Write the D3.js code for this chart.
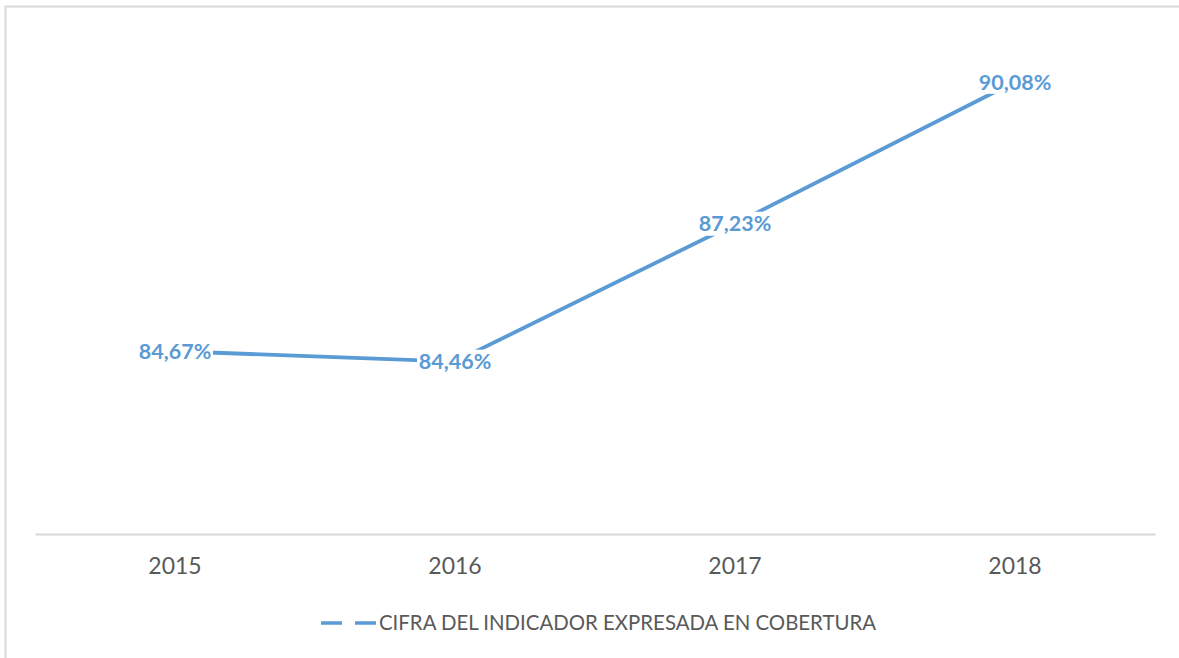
<!DOCTYPE html>
<html>
<head>
<meta charset="utf-8">
<script src="https://cdn.jsdelivr.net/npm/d3@7"></script>
<style>
  body { margin: 0; background: #fff; }
  svg text { font-family: Lato, "Open Sans", sans-serif; }
</style>
</head>
<body>
<div id="chart"></div>
<script>
// chart data
var years = ["2015", "2016", "2017", "2018"];
var values = [84.67, 84.46, 87.23, 90.08];
var seriesName = "CIFRA DEL INDICADOR EXPRESADA EN COBERTURA";
var yDomain = [81, 91];

var width = 1179, height = 658;
var color = "#5B9BD5";

var svg = d3.select("#chart").append("svg")
    .attr("width", width)
    .attr("height", height);

// chart frame (right/bottom cut off)
svg.append("path")
    .attr("d", "M5.5," + height + "V6.5H" + width)
    .attr("fill", "none")
    .attr("stroke", "#D9D9D9")
    .attr("stroke-width", 2);

var x = d3.scaleBand().domain(years).range([35, 1155]);
var y = d3.scaleLinear().domain(yDomain).range([534, 36]);

var data = years.map(function (d, i) { return { year: d, value: values[i] }; });

// x axis
var xAxis = svg.append("g")
    .attr("transform", "translate(0,534)")
    .call(d3.axisBottom(x).tickSize(0).tickPadding(24));
xAxis.select(".domain").attr("stroke", "#D9D9D9").attr("stroke-width", 2);
xAxis.selectAll("text")
    .attr("fill", "#595959")
    .style("font-size", "23px");

var line = d3.line()
    .x(function (d) { return x(d.year) + x.bandwidth() / 2; })
    .y(function (d) { return y(d.value); });

svg.append("path")
    .datum(data)
    .attr("d", line)
    .attr("fill", "none")
    .attr("stroke", color)
    .attr("stroke-width", 3.8)
    .attr("stroke-linecap", "round");

// data labels with white box behind
var fmt = function (v) { return v.toFixed(2).replace(".", ",") + "%"; };
var labels = svg.append("g").selectAll("g")
    .data(data)
    .enter().append("g")
    .attr("transform", function (d) {
        return "translate(" + (x(d.year) + x.bandwidth() / 2) + "," + y(d.value) + ")";
    });
labels.append("rect")
    .attr("x", -38).attr("y", -12)
    .attr("width", 76).attr("height", 24)
    .attr("fill", "#fff");
labels.append("text")
    .attr("text-anchor", "middle")
    .attr("dy", "0.36em")
    .attr("fill", color)
    .style("font-size", "21.5px")
    .style("font-weight", "bold")
    .text(function (d) { return fmt(d.value); });

// legend
var lg = svg.append("g").attr("transform", "translate(0,623)");
lg.append("line")
    .attr("x1", 321).attr("x2", 376)
    .attr("stroke", color)
    .attr("stroke-width", 3.5)
    .attr("stroke-dasharray", "21,13");
lg.append("text")
    .attr("x", 379)
    .attr("dy", "0.36em")
    .attr("fill", "#595959")
    .style("font-size", "20.4px")
    .text(seriesName);
</script>
</body>
</html>
